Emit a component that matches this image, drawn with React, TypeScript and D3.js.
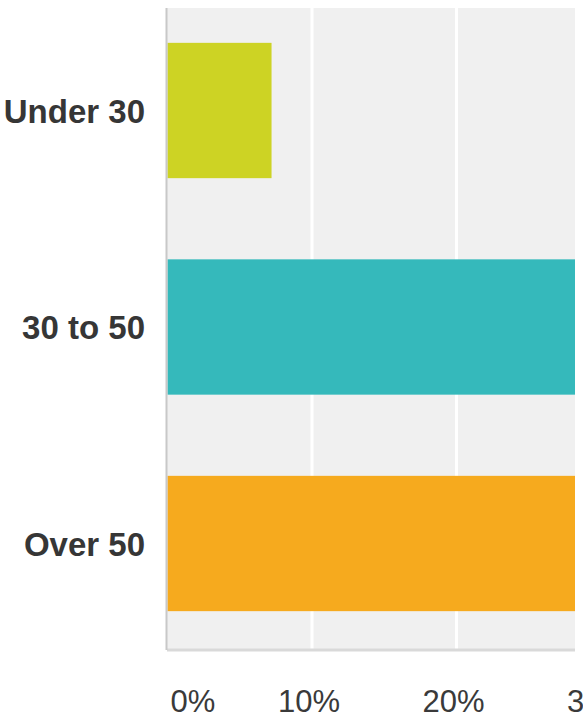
import React from "react";
import * as d3 from "d3";

const categories = ["Under 30", "30 to 50", "Over 50"];
const values = [0.072, 0.41, 0.52];
const colors = ["#cdd324", "#35b9bb", "#f6aa1e"];
const tickValues = [0, 0.1, 0.2, 0.3];
const tickLabels = ["0%", "10%", "20%", "30%"];

const W = 583;
const H = 719;
const plotLeft = 167;
const plotRight = 575;
const plotTop = 8;
const plotBottom = 650;

export default function App() {
  const x = d3.scaleLinear().domain([0, 0.3]).range([167.5, 601]);
  const y = d3
    .scaleBand<string>()
    .domain(categories)
    .range([2.25, 651.75])
    .paddingInner(0.375)
    .paddingOuter(0.1875);

  return (
    <svg
      width={W}
      height={H}
      style={{ position: "absolute", left: 0, top: 0, background: "#fff" }}
      fontFamily="'Liberation Sans', Arial, sans-serif"
    >
      <defs>
        <clipPath id="plotClip">
          <rect x={plotLeft} y={0} width={plotRight - plotLeft} height={H} />
        </clipPath>
      </defs>
      <rect
        x={plotLeft}
        y={plotTop}
        width={plotRight - plotLeft}
        height={plotBottom - plotTop}
        fill="#f0f0f0"
      />
      <g clipPath="url(#plotClip)">
        {tickValues.slice(1).map((t) => (
          <line
            key={t}
            x1={x(t)}
            x2={x(t)}
            y1={plotTop}
            y2={plotBottom}
            stroke="#ffffff"
            strokeWidth={3}
          />
        ))}
        {categories.map((c, i) => (
          <rect
            key={c}
            x={x(0)}
            y={y(c)}
            width={x(values[i]) - x(0)}
            height={y.bandwidth()}
            fill={colors[i]}
          />
        ))}
      </g>
      <line
        x1={plotLeft}
        x2={plotRight}
        y1={plotBottom}
        y2={plotBottom}
        stroke="#d9d9d9"
        strokeWidth={3}
      />
      <line
        x1={166.5}
        x2={166.5}
        y1={plotTop}
        y2={plotBottom}
        stroke="#c8c8c8"
        strokeWidth={2}
      />
      {categories.map((c) => (
        <text
          key={c}
          x={145}
          y={(y(c) as number) + y.bandwidth() / 2 + 12}
          textAnchor="end"
          fontSize={33}
          fontWeight="bold"
          fill="#363636"
        >
          {c}
        </text>
      ))}
      {tickValues.map((t, i) => (
        <text
          key={t}
          x={i === 0 ? x(t) + 3 : x(t) - 3}
          y={712}
          textAnchor={i === 0 ? "start" : "middle"}
          fontSize={31}
          fill="#3a3a3a"
        >
          {tickLabels[i]}
        </text>
      ))}
    </svg>
  );
}
